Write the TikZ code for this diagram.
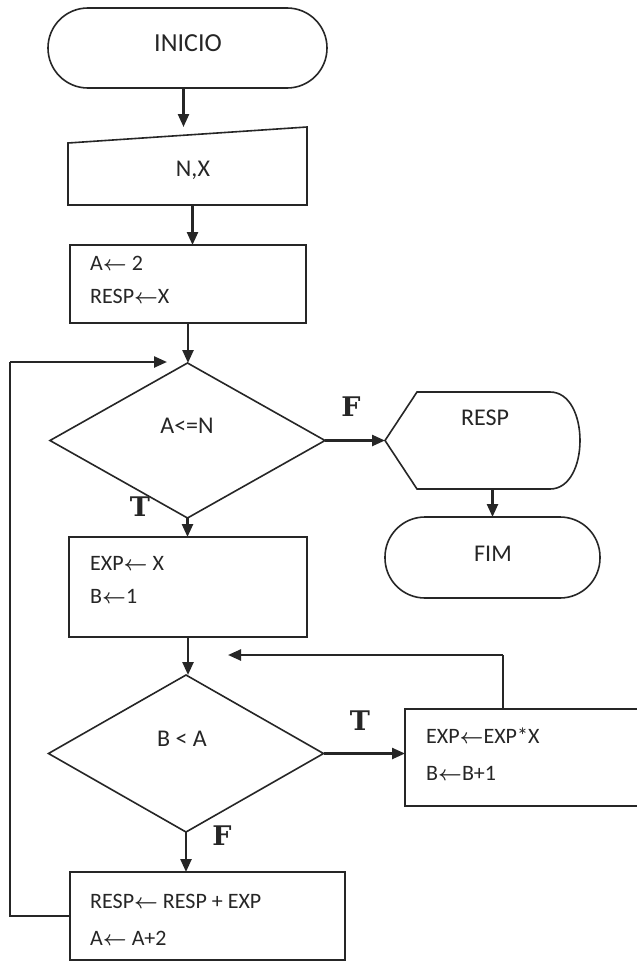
\documentclass[tikz,border=0pt]{standalone}
\usepackage{fontspec}
\setmainfont{Carlito}
\newfontfamily\lblfont{DejaVu Serif}
\usetikzlibrary{arrows.meta,shapes.geometric,calc}
\definecolor{ink}{HTML}{262626}
\newcommand{\la}{{\boldmath$\leftarrow$}}
\begin{document}
\begin{tikzpicture}[x=1pt,y=-1pt,
  frame/.style={draw=ink, line width=1.6pt, inner sep=0pt, outer sep=0pt},
  holder/.style={inner sep=0pt, outer sep=0pt},
  conn/.style={draw=ink, line width=2.4pt, -{Triangle[length=13pt,width=11pt]}},
  thinline/.style={draw=ink, line width=1.6pt},
  txt/.style={text=ink, font=\fontsize{22}{26}\selectfont, inner sep=0pt, text height=0.644em, text depth=0pt},
  bigtxt/.style={txt, font=\fontsize{24}{28}\selectfont},
  lbl/.style={text=ink, font=\lblfont\bfseries\fontsize{27}{30}\selectfont, inner sep=0pt, text height=0.73em, text depth=0pt}]
\useasboundingbox (0,0) rectangle (637,970);
\fill[white] (0,0) rectangle (637,970);

% shapes
\node[frame, rectangle, rounded corners=39.9pt, minimum width=279pt, minimum height=80pt] (start) at (187.5,48) {};
\node[holder, minimum width=239pt, minimum height=78pt] (nx) at (187.5,166) {};
\draw[frame] (nx.south west) -- (nx.south east) -- (nx.north east) -- ($(nx.north west)+(0,16)$) -- cycle;
\node[frame, rectangle, minimum width=236pt, minimum height=78pt] (a) at (188,284) {};
\node[frame, diamond, minimum width=275pt, minimum height=155pt] (d1) at (187.5,440.5) {};
\node[holder, minimum width=195pt, minimum height=97pt] (resp) at (482.5,440.5) {};
\draw[frame] (resp.west) -- ($(resp.north west)+(32,0)$) -- ($(resp.north east)+(-30,0)$)
  .. controls ($(resp.north east)+(10,0)$) and ($(resp.south east)+(10,0)$) .. ($(resp.south east)+(-30,0)$)
  -- ($(resp.south west)+(32,0)$) -- cycle;
\node[frame, rectangle, rounded corners=40pt, minimum width=215pt, minimum height=81pt] (fim) at (492.5,557.5) {};
\node[frame, rectangle, minimum width=238pt, minimum height=100pt] (exp) at (188,587) {};
\node[frame, diamond, minimum width=275pt, minimum height=157pt] (d2) at (186,753.5) {};
\node[frame, rectangle, minimum width=236pt, minimum height=97pt] (rb) at (523,757.5) {};
\node[frame, rectangle, minimum width=275pt, minimum height=88pt] (bb) at (207.5,916) {};

% texts
\node[bigtxt, font=\fontsize{26}{30}\selectfont] (tstart) at (188,48) {INICIO};
\node[bigtxt] (tnx) at (193,173) {N,X};
\node[txt, anchor=west] (ta1) at (90,267) {A\la{} 2};
\node[txt, anchor=west] (ta2) at (90,300) {RESP\la X};
\node[bigtxt] (td1) at (187,430) {A<=N};
\node[bigtxt] (tresp) at (485,422) {RESP};
\node[bigtxt] (tfim) at (493,558) {FIM};
\node[txt, anchor=west] (te1) at (90,567) {EXP\la{} X};
\node[txt, anchor=west] (te2) at (90,600) {B\la 1};
\node[bigtxt] (td2) at (182,743) {B < A};
\node[txt, anchor=west] (tr1) at (426,740) {EXP\la EXP*X};
\node[txt, anchor=west] (tr2) at (426,777) {B\la B+1};
\node[txt, anchor=west] (tb1) at (90,905) {RESP\la{} RESP + EXP};
\node[txt, anchor=west] (tb2) at (90,942) {A\la{} A+2};

% T / F labels
\node[lbl] (f1) at (351,413) {F};
\node[lbl] (t1) at (140,513) {T};
\node[lbl] (t2) at (360,727) {T};
\node[lbl] (f2) at (222,842) {F};

% connectors
\draw[conn] ($(start.south)+(-4,0)$) -- ++(0,39);
\draw[conn] ($(nx.south)+(5,0)$) -- ($(a.north)+(4.5,0)$);
\draw[conn] (a.south) -- (a.south |- d1.north);
\draw[conn] (d1.east) -- (resp.west);
\draw[conn] (resp.south -| fim.north) -- (fim.north);
\draw[conn] (d1.south) -- (d1.south |- exp.north);
\draw[conn] (exp.south) -- (exp.south |- d2.north);
\draw[conn] (d2.east) -- (d2.east -| rb.west);
\draw[conn] (d2.south) -- (d2.south |- bb.north);

% loop back to first decision
\coordinate (lc1) at (10,916);
\coordinate (lc2) at (10,362);
\coordinate (loopend) at (167,362);
\draw[thinline] (bb.west) -- (lc1) -- (lc2);
\draw[conn] (lc2) -- (loopend);

% return from inner loop
\coordinate (rc) at (503,655);
\coordinate (retend) at (228,655);
\draw[thinline] (rb.north -| rc) -- (rc);
\draw[conn] (rc) -- (retend);
\end{tikzpicture}
\end{document}
